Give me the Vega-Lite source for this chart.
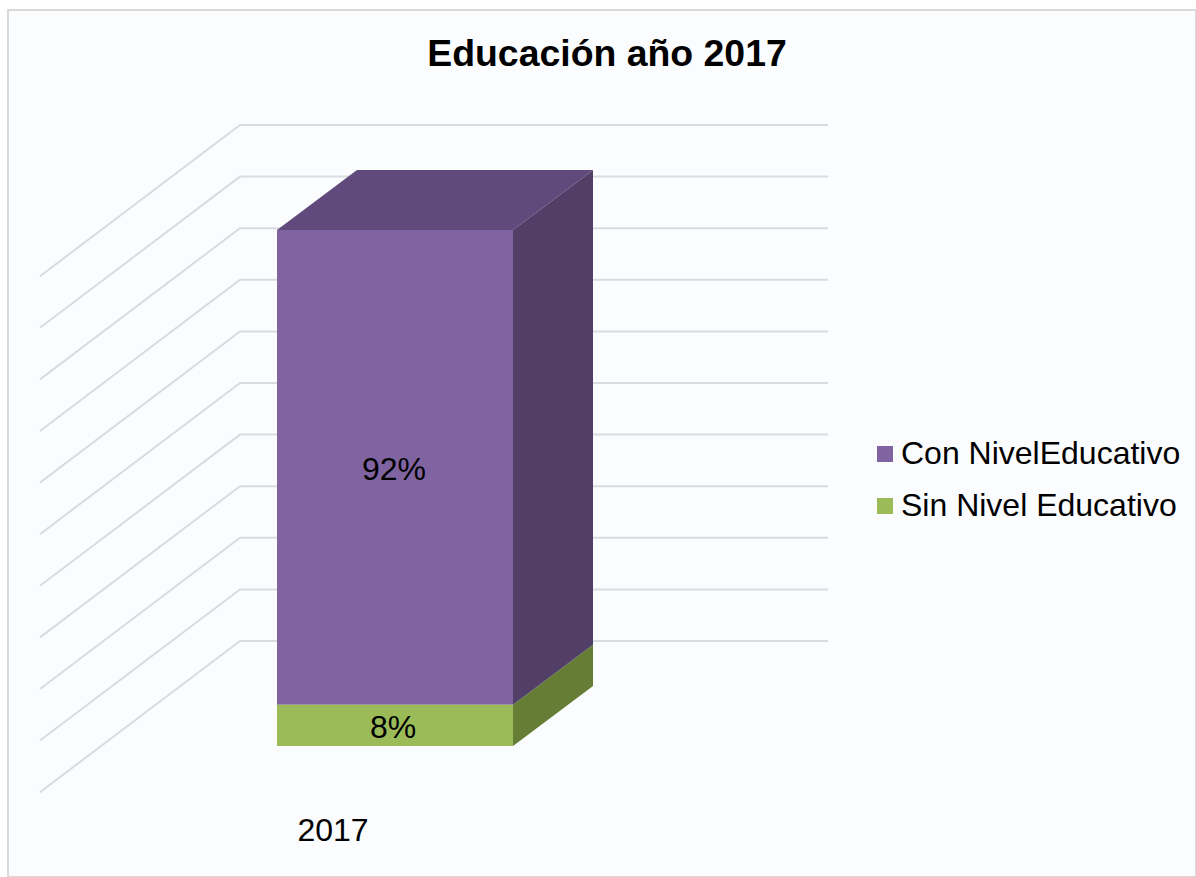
{
"$schema":"https://vega.github.io/schema/vega-lite/v6.json",
"width":1188,"height":867,
"autosize":{"type":"none"},
"padding":{"left":8,"top":10,"right":0,"bottom":0},
"background":"#ffffff",
"view":{"fill":"#fbfcfd","stroke":"#d9d9d9","strokeWidth":2},
"title":{"text":"Educación año 2017","font":"Liberation Sans","fontSize":37.4,"fontWeight":"bold","color":"#000000","anchor":"middle","dx":5,"offset":0,"dy":93,"baseline":"alphabetic"},
"datasets":{
"grid":[
{"level":0,"x":40,"y":-8.95},{"level":0,"x":240,"y":20.35},{"level":0,"x":828,"y":20.35},
{"level":10,"x":40,"y":1.05},{"level":10,"x":240,"y":30.35},{"level":10,"x":828,"y":30.35},
{"level":20,"x":40,"y":11.05},{"level":20,"x":240,"y":40.35},{"level":20,"x":828,"y":40.35},
{"level":30,"x":40,"y":21.05},{"level":30,"x":240,"y":50.35},{"level":30,"x":828,"y":50.35},
{"level":40,"x":40,"y":31.05},{"level":40,"x":240,"y":60.35},{"level":40,"x":828,"y":60.35},
{"level":50,"x":40,"y":41.05},{"level":50,"x":240,"y":70.35},{"level":50,"x":828,"y":70.35},
{"level":60,"x":40,"y":51.05},{"level":60,"x":240,"y":80.35},{"level":60,"x":828,"y":80.35},
{"level":70,"x":40,"y":61.05},{"level":70,"x":240,"y":90.35},{"level":70,"x":828,"y":90.35},
{"level":80,"x":40,"y":71.05},{"level":80,"x":240,"y":100.35},{"level":80,"x":828,"y":100.35},
{"level":90,"x":40,"y":81.05},{"level":90,"x":240,"y":110.35},{"level":90,"x":828,"y":110.35},
{"level":100,"x":40,"y":91.05},{"level":100,"x":240,"y":120.35},{"level":100,"x":828,"y":120.35}
],
"bars":[
{"serie":"Con NivelEducativo","x0":277,"x1":513,"start":8,"end":100,"label":"92%","lx":394,"ly":53.5},
{"serie":"Sin Nivel Educativo","x0":277,"x1":513,"start":0,"end":8,"label":"8%","lx":393,"ly":3.5}
],
"faces":[
{"face":"sideGreen","x":513,"low":0,"high":8},
{"face":"sideGreen","x":593,"low":11.63,"high":19.63},
{"face":"sidePurple","x":513,"low":8,"high":100},
{"face":"sidePurple","x":593,"low":19.63,"high":111.63},
{"face":"top","x":277,"low":100,"high":100},
{"face":"top","x":357,"low":100,"high":111.63},
{"face":"top","x":513,"low":100,"high":111.63},
{"face":"top","x":593,"low":111.63,"high":111.63}
],
"cat":[{"label":"2017","x":333,"y":-16.5}]
},
"data":{"name":"bars"},
"layer":[
{"data":{"name":"grid"},
 "mark":{"type":"line","stroke":"#d9dcdf","strokeWidth":2},
 "encoding":{
  "x":{"field":"x","type":"quantitative","scale":{"domain":[8,1196],"nice":false,"zero":false},"axis":null},
  "y":{"field":"y","type":"quantitative","scale":{"domain":[-25.39,142.64],"nice":false,"zero":false},"axis":null},
  "detail":{"field":"level"},
  "order":{"field":"x"}
 }},
{"data":{"name":"faces"},"transform":[{"filter":"datum.face==='sideGreen'"}],
 "mark":{"type":"area","color":"#657d35"},
 "encoding":{"x":{"field":"x","type":"quantitative"},"y":{"field":"low","type":"quantitative"},"y2":{"field":"high"}}},
{"data":{"name":"faces"},"transform":[{"filter":"datum.face==='sidePurple'"}],
 "mark":{"type":"area","color":"#523f67"},
 "encoding":{"x":{"field":"x","type":"quantitative"},"y":{"field":"low","type":"quantitative"},"y2":{"field":"high"}}},
{"data":{"name":"faces"},"transform":[{"filter":"datum.face==='top'"}],
 "mark":{"type":"area","color":"#604a7b"},
 "encoding":{"x":{"field":"x","type":"quantitative"},"y":{"field":"low","type":"quantitative"},"y2":{"field":"high"}}},
{"mark":{"type":"rect"},
 "encoding":{
  "x":{"field":"x0","type":"quantitative"},"x2":{"field":"x1"},
  "y":{"field":"start","type":"quantitative"},"y2":{"field":"end"},
  "color":{"field":"serie","type":"nominal","scale":{"domain":["Con NivelEducativo","Sin Nivel Educativo"],"range":["#8064a2","#9bbb59"]},
   "legend":{"title":null,"orient":"none","legendX":861,"legendY":428,"symbolType":"square","symbolSize":256,"symbolStrokeWidth":0,"labelFont":"Liberation Sans","labelFontSize":32,"labelColor":"#000000","labelLimit":400,"rowPadding":20,"labelOffset":0}}
 }},
{"mark":{"type":"text","font":"Liberation Sans","fontSize":32,"color":"#000000"},
 "encoding":{"x":{"field":"lx","type":"quantitative"},"y":{"field":"ly","type":"quantitative"},"text":{"field":"label"}}},
{"data":{"name":"cat"},"mark":{"type":"text","font":"Liberation Sans","fontSize":32,"color":"#000000"},
 "encoding":{"x":{"field":"x","type":"quantitative"},"y":{"field":"y","type":"quantitative"},"text":{"field":"label"}}}
]
}
